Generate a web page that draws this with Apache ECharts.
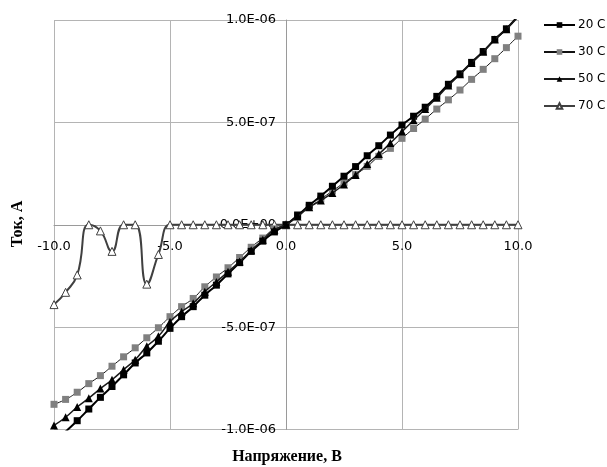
<!DOCTYPE html>
<html>
<head>
<meta charset="utf-8">
<script src="https://cdn.jsdelivr.net/npm/echarts@6/dist/echarts.min.js"></script>
<style>
  html, body { margin: 0; padding: 0; background: #fff; }
  #chart { width: 607px; height: 467px; }
</style>
</head>
<body>
<div id="chart"></div>
<script>
// voltage, V
const volts = [-10, -9.5, -9, -8.5, -8, -7.5, -7, -6.5, -6, -5.5, -5, -4.5, -4, -3.5, -3, -2.5, -2, -1.5, -1, -0.5,
  0, 0.5, 1, 1.5, 2, 2.5, 3, 3.5, 4, 4.5, 5, 5.5, 6, 6.5, 7, 7.5, 8, 8.5, 9, 9.5, 10]

// current, in units of 1e-6 A
const i20 = [-1.06, -1.01, -0.957, -0.9, -0.843, -0.79, -0.733, -0.675, -0.626, -0.569, -0.506, -0.449, -0.4, -0.344, -0.295, -0.24, -0.185, -0.13, -0.08, -0.035,
  0, 0.045, 0.095, 0.14, 0.188, 0.237, 0.284, 0.337, 0.386, 0.438, 0.487, 0.53, 0.574, 0.627, 0.686, 0.737, 0.793, 0.846, 0.905, 0.957, 1.02]
const i30 = [-0.877, -0.853, -0.818, -0.776, -0.737, -0.691, -0.645, -0.601, -0.552, -0.503, -0.449, -0.4, -0.36, -0.303, -0.255, -0.21, -0.16, -0.11, -0.065, -0.02,
  0, 0.05, 0.085, 0.125, 0.165, 0.205, 0.245, 0.285, 0.334, 0.373, 0.422, 0.47, 0.516, 0.565, 0.61, 0.658, 0.71, 0.759, 0.811, 0.865, 0.921]
const i50 = [-0.98, -0.94, -0.89, -0.847, -0.8, -0.757, -0.708, -0.659, -0.594, -0.545, -0.474, -0.425, -0.384, -0.327, -0.279, -0.23, -0.18, -0.125, -0.073, -0.024,
  0, 0.04, 0.086, 0.118, 0.155, 0.197, 0.243, 0.297, 0.345, 0.399, 0.455, 0.51, 0.565, 0.62, 0.68, 0.735, 0.79, 0.845, 0.905, 0.955, 1.015]
const i70 = [-0.39, -0.33, -0.245, 0, -0.03, -0.13, 0, 0, -0.29, -0.145, 0, 0, 0, 0, 0, 0, 0, 0, 0, 0,
  0, 0, 0, 0, 0, 0, 0, 0, 0, 0, 0, 0, 0, 0, 0, 0, 0, 0, 0, 0, 0]

const names = ['20 C', '30 C', '50 C', '70 C']
const xTitle = 'Напряжение, В'
const yTitle = 'Ток, А'

const pairs = arr => volts.map((v, k) => [v, arr[k]])

// 1.0E-06 style labels (axis is in 1e-6 units)
function sci (val) {
  const v = Math.round(val * 10) / 10
  if (v === 0) return '0.0E+00'
  let exp = -6
  let m = v
  while (Math.abs(m) < 1) { m *= 10; exp -= 1 }
  const e = Math.abs(exp)
  return m.toFixed(1) + 'E' + (exp < 0 ? '-' : '+') + (e < 10 ? '0' + e : e)
}

const W = 607
const H = 467
const grid = { left: 54, right: 89, top: 20, bottom: 37.5 }
const plotW = W - grid.left - grid.right
const plotH = H - grid.top - grid.bottom

const chart = echarts.init(document.getElementById('chart'), null, { renderer: 'canvas' })
const font = 'DejaVu Sans'
const gridColor = '#b4b4b4'
const smooth = 0.5

chart.setOption({
  backgroundColor: '#fff',
  animation: false,
  grid: Object.assign({ containLabel: false }, grid),
  legend: {
    orient: 'vertical',
    left: 543,
    top: 19,
    padding: 0,
    itemWidth: 31,
    itemHeight: 7,
    itemGap: 15,
    textStyle: { fontFamily: font, fontSize: 12, color: '#000', padding: [0, 0, 0, -2] },
    data: names
  },
  xAxis: {
    type: 'value',
    min: -10,
    max: 10,
    interval: 5,
    // axis drawn through y = 0 (middle of the plot)
    offset: -plotH / 2,
    axisLine: { onZero: false, lineStyle: { color: '#9a9a9a', width: 1 } },
    axisTick: { show: false },
    axisLabel: {
      fontFamily: font, fontSize: 13, color: '#000', margin: 15,
      showMinLabel: true, showMaxLabel: true,
      formatter: v => v.toFixed(1)
    },
    splitLine: { show: true, lineStyle: { color: gridColor, width: 1 } }
  },
  yAxis: {
    type: 'value',
    min: -1,
    max: 1,
    interval: 0.5,
    // axis drawn through x = 0
    offset: -plotW / 2,
    axisLine: { onZero: false, lineStyle: { color: '#9a9a9a', width: 1 } },
    axisTick: { show: false },
    axisLabel: {
      fontFamily: font, fontSize: 13, color: '#000', margin: 10,
      showMinLabel: true, showMaxLabel: true,
      formatter: sci
    },
    splitLine: { show: true, lineStyle: { color: gridColor, width: 1 } }
  },
  graphic: [
    {
      type: 'text',
      x: 287,
      y: 457,
      style: {
        text: xTitle, font: 'bold 16px "Liberation Serif"', fill: '#000',
        align: 'center', verticalAlign: 'middle'
      }
    },
    {
      type: 'text',
      x: 18,
      y: 224,
      rotation: Math.PI / 2,
      style: {
        text: yTitle, font: 'bold 16px "Liberation Serif"', fill: '#000',
        align: 'center', verticalAlign: 'middle'
      }
    }
  ],
  series: [
    {
      name: names[0], type: 'line', smooth, data: pairs(i20),
      symbol: 'rect', symbolSize: 7,
      lineStyle: { color: '#000', width: 2 },
      itemStyle: { color: '#000' }, z: 4
    },
    {
      name: names[1], type: 'line', smooth, data: pairs(i30),
      symbol: 'rect', symbolSize: 7,
      lineStyle: { color: '#111', width: 1 },
      itemStyle: { color: '#808080' }, z: 3
    },
    {
      name: names[2], type: 'line', smooth, data: pairs(i50),
      symbol: 'triangle', symbolSize: 8,
      lineStyle: { color: '#1a1a1a', width: 1.5 },
      itemStyle: { color: '#000' }, z: 5
    },
    {
      name: names[3], type: 'line', smooth, data: pairs(i70),
      symbol: 'triangle', symbolSize: 8,
      lineStyle: { color: '#404040', width: 2 },
      itemStyle: { color: '#fff', borderColor: '#404040', borderWidth: 1 }, z: 2
    }
  ]
})
</script>
</body>
</html>
